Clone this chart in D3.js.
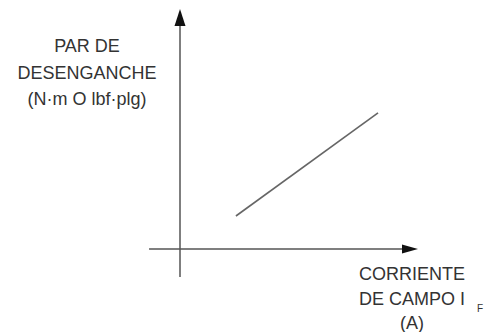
<!DOCTYPE html>
<html>
<head>
<meta charset="utf-8">
<script src="https://cdn.jsdelivr.net/npm/d3@7"></script>
<style>
  body { margin: 0; background: #fff; }
  text { font-family: "Liberation Sans", Arial, sans-serif; fill: #333; }
</style>
</head>
<body>
<svg id="chart" width="485" height="332"></svg>
<script>
// pull-out torque vs field current (schematic, no ticks)
const current = [0.235, 0.832];
const torque = [0.1375, 0.567];
const yLabel = ["PAR DE", "DESENGANCHE", "(N·m O lbf·plg)"];
const xLabel = ["CORRIENTE", "DE CAMPO I", "(A)"];
const xSub = "F";

const svg = d3.select("#chart");
const x = d3.scaleLinear().domain([0, 1]).range([180, 418]);
const y = d3.scaleLinear().domain([0, 1]).range([249, 9]);

const axisColor = "#555";

// horizontal axis
svg.append("line")
  .attr("x1", x(-0.13)).attr("x2", x(1) - 14)
  .attr("y1", y(0)).attr("y2", y(0))
  .attr("stroke", axisColor).attr("stroke-width", 1.5);
svg.append("path")
  .attr("d", `M${x(1)},${y(0)} L${x(1) - 16},${y(0) - 4.5} L${x(1) - 16},${y(0) + 4.5} Z`)
  .attr("fill", "#111");

// vertical axis
svg.append("line")
  .attr("x1", x(0)).attr("x2", x(0))
  .attr("y1", y(-0.117)).attr("y2", y(1) + 14)
  .attr("stroke", axisColor).attr("stroke-width", 1.5);
svg.append("path")
  .attr("d", `M${x(0)},${y(1)} L${x(0) - 5.5},${y(1) + 17} L${x(0) + 5.5},${y(1) + 17} Z`)
  .attr("fill", "#111");

// the curve
const line = d3.line()
  .x((d, i) => x(current[i]))
  .y((d, i) => y(torque[i]));
svg.append("path")
  .attr("d", line(current))
  .attr("fill", "none")
  .attr("stroke", "#666")
  .attr("stroke-width", 1.6);

// y label
svg.selectAll(".ylab").data(yLabel).enter().append("text")
  .attr("class", "ylab")
  .attr("x", 87)
  .attr("y", (d, i) => 52 + i * 26.5)
  .attr("text-anchor", "middle")
  .attr("font-size", 18)
  .text(d => d);

// x label
svg.selectAll(".xlab").data(xLabel).enter().append("text")
  .attr("class", "xlab")
  .attr("x", 412)
  .attr("y", (d, i) => 280 + i * 24.5)
  .attr("text-anchor", "middle")
  .attr("font-size", 18)
  .text(d => d);

svg.append("text")
  .attr("x", 477).attr("y", 312)
  .attr("font-size", 10)
  .text(xSub);
</script>
</body>
</html>
